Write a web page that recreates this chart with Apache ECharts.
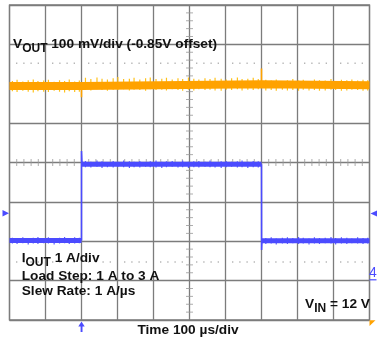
<!DOCTYPE html>
<html><head><meta charset="utf-8">
<script src="https://cdn.jsdelivr.net/npm/echarts@6/dist/echarts.min.js"></script>
<style>html,body{margin:0;padding:0;background:#fff}#c{width:379px;height:341px}</style>
</head><body><div id="c"></div>
<script>
// Time axis: 10 divisions x 100 us ; vertical axis in screen divisions (-4..4)
const timeTicks = [0,100,200,300,400,500,600,700,800,900,1000];
const divTicks = [-4,-3,-2,-1,0,1,2,3,4];

// VOUT (orange), divisions above screen centre
const voutT = [0, 199.5, 200.5, 699.5, 700.5, 1000];
const voutV = [1.94, 1.94, 1.99, 1.99, 1.96, 1.96];
const voutSpikeT = [200, 200, null, 700, 700];
const voutSpikeV = [1.94, 1.66, null, 1.99, 2.39];

// IOUT (blue), divisions
const ioutLowT = [0, 200];
const ioutLowV = [-1.98, -1.98];
const ioutHighT = [200.5, 700];
const ioutHighV = [-0.045, -0.045];
const ioutLow2T = [700.5, 1000];
const ioutLow2V = [-1.99, -1.99];
const ioutEdgeT = [200, 200, 201, 202, null, 700, 700.3, 701, 703];
const ioutEdgeV = [-1.98, 0.29, 0.05, -0.02, null, -0.045, -2.22, -2.05, -1.99];

// noise envelope extremes (sample times in us)
const noiseT = [8,21,37,52,66,79,95,108,124,139,153,166,181,194,
  211,226,243,257,272,288,301,317,333,346,362,378,391,407,423,436,452,468,481,497,512,526,543,557,571,588,602,617,633,646,662,677,691,
  712,727,741,758,772,787,803,816,832,847,861,877,893,906,922,937,951,967,982,995];
const voutNoiseHi = [2.07,2.10,2.06,2.09,2.11,2.07,2.08,2.10,2.05,2.09,2.07,2.11,2.06,2.08,
  2.15,2.12,2.16,2.13,2.11,2.14,2.17,2.12,2.13,2.15,2.11,2.14,2.16,2.12,2.13,2.15,2.11,2.14,2.12,2.16,2.13,2.11,2.14,2.12,2.15,2.13,2.11,2.14,2.16,2.12,2.13,2.15,2.12,
  2.10,2.08,2.11,2.07,2.09,2.12,2.08,2.10,2.07,2.11,2.09,2.08,2.12,2.07,2.10,2.09,2.11,2.08,2.10,2.09];
const voutNoiseLo = [1.81,1.79,1.82,1.80,1.78,1.81,1.80,1.79,1.82,1.80,1.78,1.81,1.79,1.80,
  1.85,1.83,1.86,1.84,1.82,1.85,1.84,1.86,1.83,1.85,1.84,1.82,1.86,1.84,1.85,1.83,1.86,1.84,1.82,1.85,1.83,1.86,1.84,1.85,1.83,1.82,1.85,1.84,1.86,1.83,1.85,1.84,1.86,
  1.83,1.84,1.82,1.85,1.83,1.84,1.82,1.85,1.83,1.84,1.82,1.83,1.85,1.84,1.82,1.83,1.85,1.84,1.82,1.83];
const ioutNoiseHi = [-1.91,-1.93,-1.90,-1.92,-1.91,-1.89,-1.92,-1.90,-1.93,-1.91,-1.89,-1.92,-1.90,-1.91,
  0.04,0.02,0.05,0.03,0.01,0.04,0.02,0.05,0.03,0.02,0.04,0.01,0.03,0.05,0.02,0.03,0.04,0.01,0.05,0.02,0.03,0.04,0.02,0.05,0.01,0.03,0.04,0.02,0.03,0.05,0.02,0.04,0.03,
  -1.92,-1.90,-1.93,-1.91,-1.90,-1.92,-1.89,-1.91,-1.93,-1.90,-1.92,-1.91,-1.89,-1.92,-1.90,-1.91,-1.93,-1.90,-1.92,-1.91];
const ioutNoiseLo = [-2.06,-2.07,-2.05,-2.08,-2.06,-2.07,-2.05,-2.06,-2.08,-2.06,-2.05,-2.07,-2.06,-2.05,
  -0.12,-0.13,-0.11,-0.14,-0.12,-0.13,-0.11,-0.12,-0.14,-0.12,-0.13,-0.11,-0.12,-0.13,-0.14,-0.12,-0.11,-0.13,-0.12,-0.14,-0.12,-0.13,-0.11,-0.12,-0.13,-0.14,-0.12,-0.11,-0.13,-0.12,-0.14,-0.12,-0.13,
  -2.07,-2.06,-2.08,-2.06,-2.07,-2.05,-2.07,-2.06,-2.08,-2.06,-2.07,-2.05,-2.06,-2.08,-2.06,-2.07,-2.05,-2.06,-2.07,-2.06];

// dotted cursor levels (divisions)
const cursorLevels = [2.52, -2.53];

const BLUE = '#4b4bff', ORANGE = '#ffa200', GRID = '#7c7c7c';
const zip = (t, v) => t.map((x, i) => x === null ? '-' : [x, v[i]]);
const strokes = (t, lo, hi) => { const d = []; t.forEach((x, i) => { d.push([x, lo[i]], [x, hi[i]], '-'); }); return d; };

// decoration points: minor ticks / dots at 1/5 division
const hTicks = [], vTicks = [], dots = [];
for (let i = 0; i <= 50; i++) {
  const t = i * 20;
  if (i % 5 !== 0) { hTicks.push([t, 0]); cursorLevels.forEach(l => dots.push([t, l])); }
}
for (let i = -20; i <= 20; i++) { if (i % 5 !== 0) vTicks.push([500, i / 5]); }

const chart = echarts.init(document.getElementById('c'), null, {renderer: 'canvas'});

const FONT = '"Liberation Sans", Arial, sans-serif';
const ctx = document.createElement('canvas').getContext('2d');
function w(s, fs) { ctx.font = 'bold ' + fs + 'px ' + FONT; return ctx.measureText(s).width; }
const gfx = [];
function txt(s, x, base, fs, color) {
  gfx.push({type: 'text', x: x, y: base - 0.35 * fs, style: {text: s, fill: color || '#111', font: 'bold ' + fs + 'px ' + FONT, verticalAlign: 'middle', align: 'left'}, z: 100});
  return x + w(s, fs);
}
const FS = 13.7, SUB = 12;
let x = txt('V', 13, 49.3, FS);
x = txt('OUT', x, 52.8, SUB);
txt(' 100 mV/div (-0.85V offset)', x, 49.3, FS);
x = txt('I', 21.7, 263.3, FS);
x = txt('OUT', x, 266.5, SUB);
txt(' 1 A/div', x, 263.3, FS);
txt('Load Step: 1 A to 3 A', 21.7, 280.7, FS);
txt('Slew Rate: 1 A/µs', 21.7, 295.9, FS);
const vinW = w('V', FS) + w('IN', SUB) + w(' = 12 V', FS);
x = txt('V', 370 - vinW, 309.5, FS);
x = txt('IN', x, 313, SUB);
txt(' = 12 V', x, 309.5, FS);
txt('Time 100 µs/div', 188 - w('Time 100 µs/div', FS) / 2, 335.5, FS);
// channel markers
gfx.push({type: 'polygon', shape: {points: [[2.5, 210], [9, 213.3], [2.5, 216.6]]}, style: {fill: BLUE}, z: 100});
gfx.push({type: 'polygon', shape: {points: [[377, 210.5], [370.5, 213.5], [377, 216.5]]}, style: {fill: BLUE}, z: 100});
gfx.push({type: 'text', x: 373, y: 273.2, style: {text: '4', fill: BLUE, font: '14px ' + FONT, align: 'center', verticalAlign: 'middle'}, z: 100});
gfx.push({type: 'rect', shape: {x: 369.5, y: 279.2, width: 7, height: 1.2}, style: {fill: BLUE}, z: 100});
gfx.push({type: 'polygon', shape: {points: [[369.5, 320.3], [375.5, 320.3], [369.5, 326]]}, style: {fill: ORANGE}, z: 100});
gfx.push({type: 'polygon', shape: {points: [[78.3, 326.5], [81.5, 321.5], [84.7, 326.5]]}, style: {fill: BLUE}, z: 100});
gfx.push({type: 'rect', shape: {x: 80.6, y: 325, width: 1.9, height: 7}, style: {fill: BLUE}, z: 100});

const line = (data, color, width, z) => ({type: 'line', data: data, symbol: 'none', connectNulls: false, lineStyle: {color: color, width: width}, silent: true, animation: false, z: z || 5});

chart.setOption({
  animation: false,
  grid: {left: 9.5, top: 5, width: 360, height: 315, show: true, borderColor: GRID, borderWidth: 1.3},
  xAxis: {type: 'value', min: timeTicks[0], max: timeTicks[timeTicks.length - 1], interval: 100,
    axisLabel: {show: false}, axisTick: {show: false}, axisLine: {show: false},
    splitLine: {show: true, lineStyle: {color: GRID, width: 1.3}}},
  yAxis: {type: 'value', min: divTicks[0], max: divTicks[divTicks.length - 1], interval: 1,
    axisLabel: {show: false}, axisTick: {show: false}, axisLine: {show: false},
    splitLine: {show: true, lineStyle: {color: GRID, width: 1.3}}},
  series: [
    {type: 'scatter', data: hTicks, symbol: 'rect', symbolSize: [1, 7], itemStyle: {color: '#999'}, silent: true, z: 2},
    {type: 'scatter', data: vTicks, symbol: 'rect', symbolSize: [7, 1], itemStyle: {color: '#999'}, silent: true, z: 2},
    {type: 'scatter', data: dots, symbol: 'rect', symbolSize: [1.2, 1.5], itemStyle: {color: '#9a9a9a'}, silent: true, z: 2},
    line(strokes(noiseT, voutNoiseLo, voutNoiseHi), '#ffc21a', 1.2, 4),
    line(zip(voutT, voutV), ORANGE, 8),
    line(zip(voutSpikeT, voutSpikeV), ORANGE, 1.6),
    line(strokes(noiseT, ioutNoiseLo, ioutNoiseHi), '#5b5bff', 1.2, 4),
    line(zip(ioutLowT, ioutLowV), BLUE, 5),
    line(zip(ioutHighT, ioutHighV), BLUE, 5),
    line(zip(ioutLow2T, ioutLow2V), BLUE, 5),
    line(zip(ioutEdgeT, ioutEdgeV), BLUE, 1.6)
  ],
  graphic: gfx
});
</script></body></html>
